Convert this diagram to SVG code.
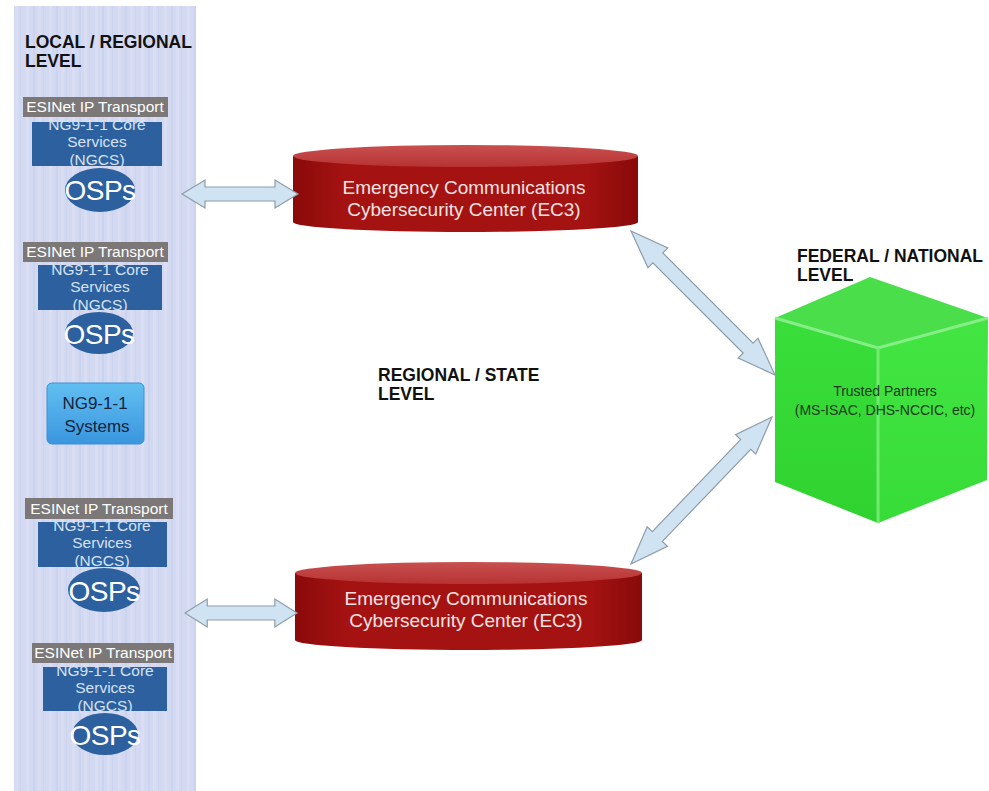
<svg xmlns="http://www.w3.org/2000/svg" width="989" height="791" viewBox="0 0 989 791">
<defs>
<pattern id="streaks" x="0" y="0" width="23" height="791" patternUnits="userSpaceOnUse">
<rect x="0" y="0" width="23" height="791" fill="#d3d9f1"/>
<rect x="3" y="0" width="3" height="791" fill="#d9def4"/>
<rect x="10" y="0" width="2" height="791" fill="#ccd3ee"/>
<rect x="15" y="0" width="3" height="791" fill="#d8ddf3"/>
<rect x="20" y="0" width="1" height="791" fill="#cdd4ee"/>
</pattern>
<linearGradient id="cylBody" x1="0" y1="0" x2="1" y2="0">
<stop offset="0" stop-color="#8a0a0a"/>
<stop offset="0.15" stop-color="#a51212"/>
<stop offset="0.85" stop-color="#a51212"/>
<stop offset="1" stop-color="#880a0a"/>
</linearGradient>
<linearGradient id="cylTop" x1="0" y1="0" x2="0" y2="1">
<stop offset="0" stop-color="#c85050"/>
<stop offset="1" stop-color="#b83232"/>
</linearGradient>
<linearGradient id="sysGrad" x1="0" y1="0" x2="0" y2="1">
<stop offset="0" stop-color="#62bff2"/>
<stop offset="1" stop-color="#3a96de"/>
</linearGradient>
<linearGradient id="cubeLeft" x1="0" y1="0" x2="0" y2="1">
<stop offset="0" stop-color="#3ade3a"/>
<stop offset="1" stop-color="#2fd22f"/>
</linearGradient>
<linearGradient id="cubeRight" x1="0" y1="0" x2="0" y2="1">
<stop offset="0" stop-color="#42e542"/>
<stop offset="1" stop-color="#38dc38"/>
</linearGradient>
<polygon id="arrH" points="0,0 23,-14 23,-7 93,-7 93,-14 116,0 93,14 93,7 23,7 23,14"/>
</defs>
<style>
.lvl{font-family:"Liberation Sans",Arial,sans-serif;font-weight:bold;font-size:17.5px;fill:#111;}
.esi{fill:#7c7878;}
.esit{font-family:"Liberation Sans",Arial,sans-serif;font-size:15.5px;fill:#ffffff;text-anchor:middle;}
.core{fill:#2d609f;}
.coret{font-family:"Liberation Sans",Arial,sans-serif;font-size:15.5px;fill:#d6e2f3;text-anchor:middle;}
.osp{fill:#2d609f;}
.ospt{font-family:"Liberation Sans",Arial,sans-serif;font-size:28px;fill:#ffffff;text-anchor:middle;letter-spacing:-0.5px;}
.cylt{font-family:"Liberation Sans",Arial,sans-serif;font-size:19px;fill:#f4e2e2;text-anchor:middle;}
.arr{fill:#cfe3f3;stroke:#8e9ca8;stroke-width:1.2;stroke-linejoin:miter;}
.sys{font-family:"Liberation Sans",Arial,sans-serif;font-size:17px;fill:#14243a;text-anchor:middle;}
.tp{font-family:"Liberation Sans",Arial,sans-serif;font-size:14px;fill:#1c3a1c;text-anchor:middle;}
</style>
<rect x="0" y="0" width="989" height="791" fill="#ffffff"/>

<g id="local-panel">
<rect x="14" y="6" width="182" height="785" fill="url(#streaks)"/>
<text class="lvl" x="25" y="48">LOCAL / REGIONAL</text>
<text class="lvl" x="25" y="67">LEVEL</text>
</g>

<g id="stack1">
<rect class="core" x="32" y="122" width="130" height="44"/>
<text class="coret" x="97" y="130">NG9-1-1 Core</text>
<text class="coret" x="97" y="147">Services</text>
<text class="coret" x="97" y="165">(NGCS)</text>
<rect class="esi" x="23" y="97" width="145" height="20"/>
<text class="esit" x="95" y="112">ESINet IP Transport</text>
<ellipse class="osp" cx="100" cy="190" rx="35" ry="22"/>
<text class="ospt" x="100" y="200">OSPs</text>
</g>

<g id="stack2">
<rect class="core" x="38" y="265" width="124" height="45"/>
<text class="coret" x="100" y="275">NG9-1-1 Core</text>
<text class="coret" x="100" y="292">Services</text>
<text class="coret" x="100" y="310">(NGCS)</text>
<rect class="esi" x="23" y="242" width="145" height="20"/>
<text class="esit" x="95" y="257">ESINet IP Transport</text>
<ellipse class="osp" cx="99" cy="333" rx="34" ry="21"/>
<text class="ospt" x="99" y="344">OSPs</text>
</g>

<g id="ng911-systems">
<rect x="47" y="383" width="97" height="61" rx="5" fill="url(#sysGrad)" stroke="#3c8fd0" stroke-width="1"/>
<text class="sys" x="95" y="409">NG9-1-1</text>
<text class="sys" x="97" y="432">Systems</text>
</g>

<g id="stack3">
<rect class="core" x="38" y="522" width="129" height="45"/>
<text class="coret" x="102" y="531">NG9-1-1 Core</text>
<text class="coret" x="102" y="548">Services</text>
<text class="coret" x="102" y="566">(NGCS)</text>
<rect class="esi" x="25" y="498" width="148" height="21"/>
<text class="esit" x="99" y="514">ESINet IP Transport</text>
<ellipse class="osp" cx="104" cy="590" rx="36" ry="22"/>
<text class="ospt" x="104" y="601">OSPs</text>
</g>

<g id="stack4">
<rect class="core" x="43" y="667" width="124" height="44"/>
<text class="coret" x="105" y="676">NG9-1-1 Core</text>
<text class="coret" x="105" y="693">Services</text>
<text class="coret" x="105" y="711">(NGCS)</text>
<rect class="esi" x="32" y="643" width="142" height="20"/>
<text class="esit" x="103" y="658">ESINet IP Transport</text>
<ellipse class="osp" cx="105" cy="734" rx="33" ry="21"/>
<text class="ospt" x="105" y="745">OSPs</text>
</g>

<g id="ec3-top">
<path d="M293,156 L293,222 A172.5,10 0 0 0 638,222 L638,156 Z" fill="url(#cylBody)"/>
<ellipse cx="465.5" cy="156" rx="172.5" ry="11" fill="url(#cylTop)"/>
<text class="cylt" x="464" y="194">Emergency Communications</text>
<text class="cylt" x="464" y="216">Cybersecurity Center (EC3)</text>
</g>

<g id="ec3-bottom">
<path d="M295,573 L295,640 A173.5,10 0 0 0 642,640 L642,573 Z" fill="url(#cylBody)"/>
<ellipse cx="468.5" cy="573" rx="173.5" ry="11" fill="url(#cylTop)"/>
<text class="cylt" x="466" y="605">Emergency Communications</text>
<text class="cylt" x="466" y="627">Cybersecurity Center (EC3)</text>
</g>

<g id="regional-label">
<text class="lvl" x="378" y="381">REGIONAL / STATE</text>
<text class="lvl" x="378" y="400">LEVEL</text>
</g>

<g id="federal">
<text class="lvl" x="797" y="262">FEDERAL / NATIONAL</text>
<text class="lvl" x="797" y="281">LEVEL</text>
<polygon points="775,318 878,348 878,523 775,482" fill="url(#cubeLeft)"/>
<polygon points="878,348 988,318 987,480 878,523" fill="url(#cubeRight)"/>
<polygon points="775,318 870,277 988,318 878,348" fill="#4ade4a"/>
<polyline points="775,318 878,348 988,318" fill="none" stroke="#86ee86" stroke-width="3"/>
<line x1="878" y1="348" x2="878" y2="523" stroke="#70ea70" stroke-width="3"/>
<text class="tp" x="885" y="396">Trusted Partners</text>
<text class="tp" x="885" y="415">(MS-ISAC, DHS-NCCIC, etc)</text>
</g>

<g id="connectors">
<use href="#arrH" class="arr" transform="translate(182,194)"/>
<use href="#arrH" class="arr" transform="translate(185,613) scale(0.966,1)"/>
<polygon class="arr" transform="translate(631,231) rotate(45)" points="0,0 38,-14 38,-7 165.6,-7 165.6,-14 203.6,0 165.6,14 165.6,7 38,7 38,14"/>
<polygon class="arr" transform="translate(631,564) rotate(-46.2)" points="0,0 38,-14 38,-7 165.7,-7 165.7,-14 203.7,0 165.7,14 165.7,7 38,7 38,14"/>
</g>
</svg>
